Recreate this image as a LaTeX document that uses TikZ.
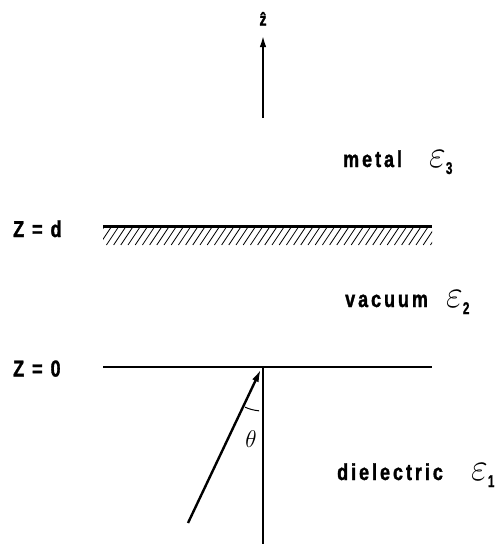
\documentclass[tikz,border=0pt]{standalone}
\usepackage{fontspec}
\usetikzlibrary{arrows.meta}
\newfontfamily\lblfont{Liberation Sans}[UprightFont={* Bold},FakeStretch=0.78,LetterSpace=13,FakeBold=1.4]
\newfontfamily\subfontfam{Liberation Sans}[UprightFont={* Bold},FakeStretch=0.7,FakeBold=0.8]
\begin{document}
\begin{tikzpicture}[x=1pt,y=-1pt,
  lbl/.style={inner sep=0pt, anchor=base west, font=\lblfont\fontsize{23}{23}\selectfont},
  epsl/.style={inner sep=0pt, anchor=base west},
  iface/.style={line width=2pt},
  arr/.style={line width=2.4pt, -{Latex[length=13pt,width=7pt]}}]
\useasboundingbox (0,0) rectangle (496,544);
\newcommand{\epsx}[1]{\scalebox{1.75}[1.9]{\fontsize{20.74}{20.74}\selectfont$\varepsilon$}\raisebox{-7pt}{\subfontfam\fontsize{17}{17}\selectfont #1}}
% z-hat axis
\coordinate (zbot) at (263,118);
\coordinate (ztop) at (263,35);
\draw[line width=2.2pt,-{Latex[length=12pt,width=6.5pt]}] (zbot) -- (ztop);
\node[inner sep=0pt, anchor=base, font=\lblfont\fontsize{18}{18}\selectfont] (zlab) at (263,25.5) {\^{z}};
% metal interface z=d
\coordinate (dL) at (103,226);
\coordinate (dR) at (432,226);
\begin{scope}
  \clip (103,227) rectangle (432,245);
  \foreach \x in {92,99.2,...,440} \draw[line width=0.8pt] (\x,245) -- (\x+12,227);
\end{scope}
\draw[line width=3pt] (dL) -- (dR);
% z=0 interface
\coordinate (oL) at (103,367);
\coordinate (oR) at (432,367);
\coordinate (O) at (263,367);
\coordinate (nb) at (263,544);
\draw[iface] (oL) -- (oR);
\draw[iface] (O) -- (nb);
% incident ray
\coordinate (rt) at (188,523);
\coordinate (rh) at (261,369);
\draw[arr] (rt) -- (rh);
\draw[line width=1pt] (O) ++(95:44) arc[start angle=95, end angle=114, radius=44];
\node[inner sep=0pt] (th) at (251,439) {\scalebox{1.35}[1.4]{\fontsize{17.28}{17.28}\selectfont$\theta$}};
% labels
\node[lbl] (zd) at (13,237) {Z = d};
\node[lbl] (z0) at (13,376.5) {Z = 0};
\node[lbl] (metal) at (343,167) {metal};
\node[epsl] (e3) at (429,167) {\epsx{3}};
\node[lbl] (vac) at (345,307) {vacuum};
\node[epsl] (e2) at (446,307) {\epsx{2}};
\node[lbl] (diel) at (337,480) {dielectric};
\node[epsl] (e1) at (471,480) {\epsx{1}};
\end{tikzpicture}
\end{document}
